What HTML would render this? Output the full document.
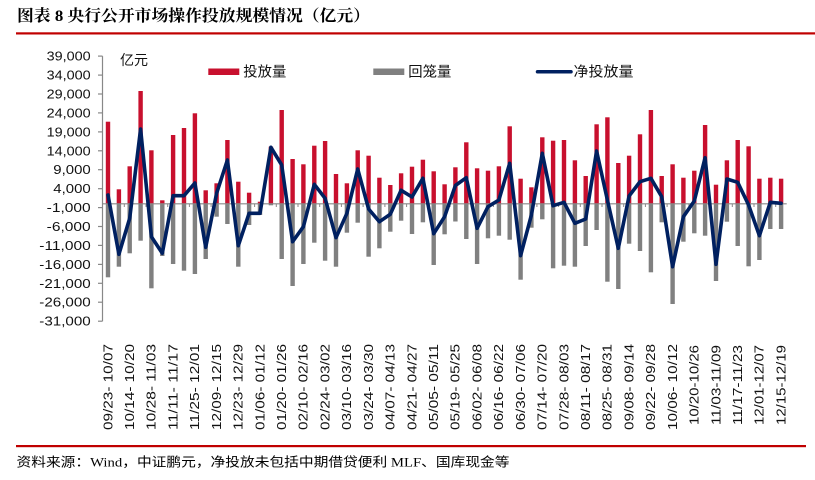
<!DOCTYPE html>
<html>
<head>
<meta charset="utf-8">
<style>
  html, body { margin: 0; padding: 0; background: #ffffff; }
  body { width: 815px; height: 480px; overflow: hidden; }
  svg { display: block; }
  .ylab { font-family: "Liberation Sans", "Noto Sans CJK SC", sans-serif; font-size: 13px; fill: #111; }
  .xlab { font-family: "Liberation Sans", "Noto Sans CJK SC", sans-serif; font-size: 13px; fill: #111; }
  .leg { font-family: "Liberation Sans", "Noto Sans CJK SC", sans-serif; font-size: 14px; fill: #111; }
</style>
</head>
<body>
<svg width="815" height="480" viewBox="0 0 815 480" xmlns="http://www.w3.org/2000/svg">
  <rect x="0" y="0" width="815" height="480" fill="#ffffff"/>

  <!-- Title -->
  <text x="17" y="21" font-family="'Liberation Serif', 'Noto Serif CJK SC', serif" font-weight="bold" font-size="16" fill="#000" textLength="353" lengthAdjust="spacingAndGlyphs">图表 8 央行公开市场操作投放规模情况（亿元）</text>
  <rect x="16" y="32.3" width="799" height="2.2" fill="#C00000"/>

  <!-- Unit label -->
  <text x="120" y="65" class="leg" textLength="28" lengthAdjust="spacingAndGlyphs">亿元</text>

  <!-- Legend -->
  <rect x="208.3" y="68.5" width="31" height="6.5" fill="#C8102E"/>
  <text x="243.3" y="76.5" class="leg" textLength="43" lengthAdjust="spacingAndGlyphs">投放量</text>
  <rect x="373.3" y="68.5" width="31" height="6.5" fill="#808080"/>
  <text x="408.3" y="76.5" class="leg" textLength="43" lengthAdjust="spacingAndGlyphs">回笼量</text>
  <line x1="537.5" y1="71.7" x2="571" y2="71.7" stroke="#002060" stroke-width="3.5" stroke-linecap="round"/>
  <text x="573.5" y="76.5" class="leg" textLength="60" lengthAdjust="spacingAndGlyphs">净投放量</text>

  <!-- Y axis -->
  <line x1="102.5" y1="56.1" x2="102.5" y2="321.2" stroke="#888" stroke-width="1.2"/>
  <g stroke="#888" stroke-width="1.2">
    <line x1="98" y1="56.1" x2="102.5" y2="56.1"/>
    <line x1="98" y1="75.1" x2="102.5" y2="75.1"/>
    <line x1="98" y1="94.0" x2="102.5" y2="94.0"/>
    <line x1="98" y1="112.9" x2="102.5" y2="112.9"/>
    <line x1="98" y1="131.9" x2="102.5" y2="131.9"/>
    <line x1="98" y1="150.8" x2="102.5" y2="150.8"/>
    <line x1="98" y1="169.7" x2="102.5" y2="169.7"/>
    <line x1="98" y1="188.7" x2="102.5" y2="188.7"/>
    <line x1="98" y1="207.6" x2="102.5" y2="207.6"/>
    <line x1="98" y1="226.5" x2="102.5" y2="226.5"/>
    <line x1="98" y1="245.4" x2="102.5" y2="245.4"/>
    <line x1="98" y1="264.4" x2="102.5" y2="264.4"/>
    <line x1="98" y1="283.3" x2="102.5" y2="283.3"/>
    <line x1="98" y1="302.2" x2="102.5" y2="302.2"/>
    <line x1="98" y1="321.2" x2="102.5" y2="321.2"/>
  </g>
  <g class="ylab" text-anchor="end">
    <text x="90.7" y="60.6" textLength="44" lengthAdjust="spacingAndGlyphs">39,000</text>
    <text x="90.7" y="79.6" textLength="44" lengthAdjust="spacingAndGlyphs">34,000</text>
    <text x="90.7" y="98.5" textLength="44" lengthAdjust="spacingAndGlyphs">29,000</text>
    <text x="90.7" y="117.4" textLength="44" lengthAdjust="spacingAndGlyphs">24,000</text>
    <text x="90.7" y="136.4" textLength="44" lengthAdjust="spacingAndGlyphs">19,000</text>
    <text x="90.7" y="155.3" textLength="44" lengthAdjust="spacingAndGlyphs">14,000</text>
    <text x="90.7" y="174.2" textLength="37.4" lengthAdjust="spacingAndGlyphs">9,000</text>
    <text x="90.7" y="193.2" textLength="37.4" lengthAdjust="spacingAndGlyphs">4,000</text>
    <text x="90.7" y="212.1" textLength="44" lengthAdjust="spacingAndGlyphs">-1,000</text>
    <text x="90.7" y="231.0" textLength="44" lengthAdjust="spacingAndGlyphs">-6,000</text>
    <text x="90.7" y="249.9" textLength="51.4" lengthAdjust="spacingAndGlyphs">-11,000</text>
    <text x="90.7" y="268.9" textLength="51.4" lengthAdjust="spacingAndGlyphs">-16,000</text>
    <text x="90.7" y="287.8" textLength="51.4" lengthAdjust="spacingAndGlyphs">-21,000</text>
    <text x="90.7" y="306.7" textLength="51.4" lengthAdjust="spacingAndGlyphs">-26,000</text>
    <text x="90.7" y="325.7" textLength="51.4" lengthAdjust="spacingAndGlyphs">-31,000</text>
  </g>

  <!-- Red bars (投放量) -->
  <g fill="#C8102E">
    <rect x="105.8" y="121.7" width="4.4" height="82.1"/>
    <rect x="116.7" y="189.3" width="4.4" height="14.5"/>
    <rect x="127.5" y="166.3" width="4.4" height="37.5"/>
    <rect x="138.4" y="91" width="4.4" height="112.8"/>
    <rect x="149.2" y="150.3" width="4.4" height="53.5"/>
    <rect x="160.1" y="200.3" width="4.4" height="3.5"/>
    <rect x="170.9" y="135" width="4.4" height="68.8"/>
    <rect x="181.8" y="128" width="4.4" height="75.8"/>
    <rect x="192.7" y="113.3" width="4.4" height="90.5"/>
    <rect x="203.5" y="190.3" width="4.4" height="13.5"/>
    <rect x="214.4" y="183.3" width="4.4" height="20.5"/>
    <rect x="225.2" y="140" width="4.4" height="63.8"/>
    <rect x="236.1" y="181.7" width="4.4" height="22.1"/>
    <rect x="246.9" y="192.7" width="4.4" height="11.1"/>
    <rect x="257.8" y="201.7" width="4.4" height="2.1"/>
    <rect x="268.7" y="146.7" width="4.4" height="57.1"/>
    <rect x="279.5" y="110" width="4.4" height="93.8"/>
    <rect x="290.4" y="159" width="4.4" height="44.8"/>
    <rect x="301.2" y="164.3" width="4.4" height="39.5"/>
    <rect x="312.1" y="145.7" width="4.4" height="58.1"/>
    <rect x="322.9" y="141" width="4.4" height="62.8"/>
    <rect x="333.8" y="174" width="4.4" height="29.8"/>
    <rect x="344.7" y="183.3" width="4.4" height="20.5"/>
    <rect x="355.5" y="150.3" width="4.4" height="53.5"/>
    <rect x="366.4" y="155.7" width="4.4" height="48.1"/>
    <rect x="377.2" y="177.7" width="4.4" height="26.1"/>
    <rect x="388.1" y="185" width="4.4" height="18.8"/>
    <rect x="398.9" y="173.3" width="4.4" height="30.5"/>
    <rect x="409.8" y="166.7" width="4.4" height="37.1"/>
    <rect x="420.7" y="159.7" width="4.4" height="44.1"/>
    <rect x="431.5" y="171.3" width="4.4" height="32.5"/>
    <rect x="442.4" y="184.3" width="4.4" height="19.5"/>
    <rect x="453.2" y="167.3" width="4.4" height="36.5"/>
    <rect x="464.1" y="142.3" width="4.4" height="61.5"/>
    <rect x="474.9" y="168.3" width="4.4" height="35.5"/>
    <rect x="485.8" y="170.7" width="4.4" height="33.1"/>
    <rect x="496.7" y="166.3" width="4.4" height="37.5"/>
    <rect x="507.5" y="126.3" width="4.4" height="77.5"/>
    <rect x="518.4" y="178.7" width="4.4" height="25.1"/>
    <rect x="529.2" y="187.3" width="4.4" height="16.5"/>
    <rect x="540.1" y="137.3" width="4.4" height="66.5"/>
    <rect x="550.9" y="140.7" width="4.4" height="63.1"/>
    <rect x="561.8" y="140" width="4.4" height="63.8"/>
    <rect x="572.7" y="160.3" width="4.4" height="43.5"/>
    <rect x="583.5" y="176" width="4.4" height="27.8"/>
    <rect x="594.4" y="124.3" width="4.4" height="79.5"/>
    <rect x="605.2" y="117.3" width="4.4" height="86.5"/>
    <rect x="616.1" y="163" width="4.4" height="40.8"/>
    <rect x="626.9" y="155.7" width="4.4" height="48.1"/>
    <rect x="637.8" y="134.3" width="4.4" height="69.5"/>
    <rect x="648.7" y="110" width="4.4" height="93.8"/>
    <rect x="659.5" y="176" width="4.4" height="27.8"/>
    <rect x="670.4" y="164.3" width="4.4" height="39.5"/>
    <rect x="681.2" y="177.7" width="4.4" height="26.1"/>
    <rect x="692.1" y="170.7" width="4.4" height="33.1"/>
    <rect x="702.9" y="125" width="4.4" height="78.8"/>
    <rect x="713.8" y="184.7" width="4.4" height="19.1"/>
    <rect x="724.7" y="160.3" width="4.4" height="43.5"/>
    <rect x="735.5" y="140" width="4.4" height="63.8"/>
    <rect x="746.4" y="146.3" width="4.4" height="57.5"/>
    <rect x="757.2" y="178.7" width="4.4" height="25.1"/>
    <rect x="768.1" y="177.7" width="4.4" height="26.1"/>
    <rect x="778.9" y="178.7" width="4.4" height="25.1"/>
  </g>

  <!-- Gray bars (回笼量) -->
  <g fill="#808080">
    <rect x="105.8" y="203.8" width="4.4" height="73.5"/>
    <rect x="116.7" y="203.8" width="4.4" height="62.9"/>
    <rect x="127.5" y="203.8" width="4.4" height="49.5"/>
    <rect x="138.4" y="203.8" width="4.4" height="36.9"/>
    <rect x="149.2" y="203.8" width="4.4" height="84.5"/>
    <rect x="160.1" y="203.8" width="4.4" height="52.2"/>
    <rect x="170.9" y="203.8" width="4.4" height="60.2"/>
    <rect x="181.8" y="203.8" width="4.4" height="66.9"/>
    <rect x="192.7" y="203.8" width="4.4" height="70.2"/>
    <rect x="203.5" y="203.8" width="4.4" height="55.2"/>
    <rect x="214.4" y="203.8" width="4.4" height="12.9"/>
    <rect x="225.2" y="203.8" width="4.4" height="20.2"/>
    <rect x="236.1" y="203.8" width="4.4" height="62.9"/>
    <rect x="246.9" y="203.8" width="4.4" height="21.2"/>
    <rect x="257.8" y="203.8" width="4.4" height="11.2"/>
    <rect x="268.7" y="203.8" width="4.4" height="1.5"/>
    <rect x="279.5" y="203.8" width="4.4" height="55.2"/>
    <rect x="290.4" y="203.8" width="4.4" height="82.2"/>
    <rect x="301.2" y="203.8" width="4.4" height="60.2"/>
    <rect x="312.1" y="203.8" width="4.4" height="38.9"/>
    <rect x="322.9" y="203.8" width="4.4" height="56.9"/>
    <rect x="333.8" y="203.8" width="4.4" height="62.9"/>
    <rect x="344.7" y="203.8" width="4.4" height="28.9"/>
    <rect x="355.5" y="203.8" width="4.4" height="18.9"/>
    <rect x="366.4" y="203.8" width="4.4" height="52.9"/>
    <rect x="377.2" y="203.8" width="4.4" height="44.5"/>
    <rect x="388.1" y="203.8" width="4.4" height="27.9"/>
    <rect x="398.9" y="203.8" width="4.4" height="16.9"/>
    <rect x="409.8" y="203.8" width="4.4" height="30.2"/>
    <rect x="420.7" y="203.8" width="4.4" height="18.5"/>
    <rect x="431.5" y="203.8" width="4.4" height="61.2"/>
    <rect x="442.4" y="203.8" width="4.4" height="30.5"/>
    <rect x="453.2" y="203.8" width="4.4" height="17.7"/>
    <rect x="464.1" y="203.8" width="4.4" height="35.2"/>
    <rect x="474.9" y="203.8" width="4.4" height="60.2"/>
    <rect x="485.8" y="203.8" width="4.4" height="34.5"/>
    <rect x="496.7" y="203.8" width="4.4" height="31.9"/>
    <rect x="507.5" y="203.8" width="4.4" height="35.9"/>
    <rect x="518.4" y="203.8" width="4.4" height="75.9"/>
    <rect x="529.2" y="203.8" width="4.4" height="23.9"/>
    <rect x="540.1" y="203.8" width="4.4" height="15.5"/>
    <rect x="550.9" y="203.8" width="4.4" height="64.5"/>
    <rect x="561.8" y="203.8" width="4.4" height="61.9"/>
    <rect x="572.7" y="203.8" width="4.4" height="62.9"/>
    <rect x="583.5" y="203.8" width="4.4" height="42.2"/>
    <rect x="594.4" y="203.8" width="4.4" height="26.2"/>
    <rect x="605.2" y="203.8" width="4.4" height="77.9"/>
    <rect x="616.1" y="203.8" width="4.4" height="85.2"/>
    <rect x="626.9" y="203.8" width="4.4" height="39.9"/>
    <rect x="637.8" y="203.8" width="4.4" height="47.2"/>
    <rect x="648.7" y="203.8" width="4.4" height="68.5"/>
    <rect x="659.5" y="203.8" width="4.4" height="18.5"/>
    <rect x="670.4" y="203.8" width="4.4" height="100.2"/>
    <rect x="681.2" y="203.8" width="4.4" height="37.9"/>
    <rect x="692.1" y="203.8" width="4.4" height="29.5"/>
    <rect x="702.9" y="203.8" width="4.4" height="31.9"/>
    <rect x="713.8" y="203.8" width="4.4" height="77.2"/>
    <rect x="724.7" y="203.8" width="4.4" height="17.9"/>
    <rect x="735.5" y="203.8" width="4.4" height="42.2"/>
    <rect x="746.4" y="203.8" width="4.4" height="62.5"/>
    <rect x="757.2" y="203.8" width="4.4" height="56.2"/>
    <rect x="768.1" y="203.8" width="4.4" height="25.2"/>
    <rect x="778.9" y="203.8" width="4.4" height="25.2"/>
  </g>

  <!-- X axis -->
  <line x1="102.5" y1="203.8" x2="786.7" y2="203.8" stroke="#888" stroke-width="1.2"/>
  <g stroke="#888" stroke-width="1">
    <line x1="124.3" y1="203.8" x2="124.3" y2="207"/>
    <line x1="146" y1="203.8" x2="146" y2="207"/>
    <line x1="167.7" y1="203.8" x2="167.7" y2="207"/>
    <line x1="189.4" y1="203.8" x2="189.4" y2="207"/>
    <line x1="211.1" y1="203.8" x2="211.1" y2="207"/>
    <line x1="232.9" y1="203.8" x2="232.9" y2="207"/>
    <line x1="254.6" y1="203.8" x2="254.6" y2="207"/>
    <line x1="276.3" y1="203.8" x2="276.3" y2="207"/>
    <line x1="298" y1="203.8" x2="298" y2="207"/>
    <line x1="319.7" y1="203.8" x2="319.7" y2="207"/>
    <line x1="341.4" y1="203.8" x2="341.4" y2="207"/>
    <line x1="363.1" y1="203.8" x2="363.1" y2="207"/>
    <line x1="384.9" y1="203.8" x2="384.9" y2="207"/>
    <line x1="406.6" y1="203.8" x2="406.6" y2="207"/>
    <line x1="428.3" y1="203.8" x2="428.3" y2="207"/>
    <line x1="450" y1="203.8" x2="450" y2="207"/>
    <line x1="471.7" y1="203.8" x2="471.7" y2="207"/>
    <line x1="493.4" y1="203.8" x2="493.4" y2="207"/>
    <line x1="515.1" y1="203.8" x2="515.1" y2="207"/>
    <line x1="536.9" y1="203.8" x2="536.9" y2="207"/>
    <line x1="558.6" y1="203.8" x2="558.6" y2="207"/>
    <line x1="580.3" y1="203.8" x2="580.3" y2="207"/>
    <line x1="602" y1="203.8" x2="602" y2="207"/>
    <line x1="623.7" y1="203.8" x2="623.7" y2="207"/>
    <line x1="645.4" y1="203.8" x2="645.4" y2="207"/>
    <line x1="667.1" y1="203.8" x2="667.1" y2="207"/>
    <line x1="688.9" y1="203.8" x2="688.9" y2="207"/>
    <line x1="710.6" y1="203.8" x2="710.6" y2="207"/>
    <line x1="732.3" y1="203.8" x2="732.3" y2="207"/>
    <line x1="754" y1="203.8" x2="754" y2="207"/>
    <line x1="775.7" y1="203.8" x2="775.7" y2="207"/>
  </g>

  <!-- Net line (净投放量) -->
  <polyline fill="none" stroke="#002060" stroke-width="3.6" stroke-linejoin="round" stroke-linecap="round"
    points="108.0,195 118.9,254.3 129.7,218.3 140.6,129 151.4,236.7 162.3,253.3 173.1,195.7 184.0,195.7 194.9,183 205.7,247.3 216.6,193.3 227.4,160 238.3,245.7 249.1,213.3 260.0,213.3 270.9,147.3 281.7,165 292.6,241.7 303.4,226.7 314.3,184.3 325.1,198.3 336.0,237.7 346.9,213.3 357.7,169 368.6,209 379.4,221.7 390.3,214.3 401.1,190.3 412.0,197 422.9,178.3 433.7,233.7 444.6,216.7 455.4,185.5 466.3,177.7 477.1,228.3 488.0,206.7 498.9,200 509.7,163.3 520.6,255.7 531.4,215 542.3,153.3 553.1,205.7 564.0,202.3 574.9,223.3 585.7,219 596.6,151 607.4,200 618.3,248.3 629.1,196 640.0,181.7 650.9,178.3 661.7,196.7 672.6,266.7 683.4,216.7 694.3,201 705.1,157.7 716.0,264.3 726.9,179 737.7,182.3 748.6,205 759.4,235.7 770.3,202.3 781.1,203.3"/>

  <!-- X labels -->
  <g class="xlab" text-anchor="end">
    <text transform="translate(112.3,344) rotate(-90)" textLength="86" lengthAdjust="spacingAndGlyphs">09/23- 10/07</text>
    <text transform="translate(134.0,344) rotate(-90)" textLength="86" lengthAdjust="spacingAndGlyphs">10/14- 10/20</text>
    <text transform="translate(155.7,344) rotate(-90)" textLength="86" lengthAdjust="spacingAndGlyphs">10/28- 11/03</text>
    <text transform="translate(177.4,344) rotate(-90)" textLength="86" lengthAdjust="spacingAndGlyphs">11/11- 11/17</text>
    <text transform="translate(199.2,344) rotate(-90)" textLength="86" lengthAdjust="spacingAndGlyphs">11/25- 12/01</text>
    <text transform="translate(220.9,344) rotate(-90)" textLength="86" lengthAdjust="spacingAndGlyphs">12/09- 12/15</text>
    <text transform="translate(242.6,344) rotate(-90)" textLength="86" lengthAdjust="spacingAndGlyphs">12/23- 12/29</text>
    <text transform="translate(264.3,344) rotate(-90)" textLength="86" lengthAdjust="spacingAndGlyphs">01/06- 01/12</text>
    <text transform="translate(286.0,344) rotate(-90)" textLength="86" lengthAdjust="spacingAndGlyphs">01/20- 01/26</text>
    <text transform="translate(307.7,344) rotate(-90)" textLength="86" lengthAdjust="spacingAndGlyphs">02/10- 02/16</text>
    <text transform="translate(329.4,344) rotate(-90)" textLength="86" lengthAdjust="spacingAndGlyphs">02/24- 03/02</text>
    <text transform="translate(351.2,344) rotate(-90)" textLength="86" lengthAdjust="spacingAndGlyphs">03/10- 03/16</text>
    <text transform="translate(372.9,344) rotate(-90)" textLength="86" lengthAdjust="spacingAndGlyphs">03/24- 03/30</text>
    <text transform="translate(394.6,344) rotate(-90)" textLength="86" lengthAdjust="spacingAndGlyphs">04/07- 04/13</text>
    <text transform="translate(416.3,344) rotate(-90)" textLength="86" lengthAdjust="spacingAndGlyphs">04/21- 04/27</text>
    <text transform="translate(438.0,344) rotate(-90)" textLength="86" lengthAdjust="spacingAndGlyphs">05/05- 05/11</text>
    <text transform="translate(459.7,344) rotate(-90)" textLength="86" lengthAdjust="spacingAndGlyphs">05/19- 05/25</text>
    <text transform="translate(481.4,344) rotate(-90)" textLength="86" lengthAdjust="spacingAndGlyphs">06/02- 06/08</text>
    <text transform="translate(503.2,344) rotate(-90)" textLength="86" lengthAdjust="spacingAndGlyphs">06/16- 06/22</text>
    <text transform="translate(524.9,344) rotate(-90)" textLength="86" lengthAdjust="spacingAndGlyphs">06/30- 07/06</text>
    <text transform="translate(546.6,344) rotate(-90)" textLength="86" lengthAdjust="spacingAndGlyphs">07/14- 07/20</text>
    <text transform="translate(568.3,344) rotate(-90)" textLength="86" lengthAdjust="spacingAndGlyphs">07/28- 08/03</text>
    <text transform="translate(590.0,344) rotate(-90)" textLength="86" lengthAdjust="spacingAndGlyphs">08/11- 08/17</text>
    <text transform="translate(611.7,344) rotate(-90)" textLength="86" lengthAdjust="spacingAndGlyphs">08/25- 08/31</text>
    <text transform="translate(633.4,344) rotate(-90)" textLength="86" lengthAdjust="spacingAndGlyphs">09/08- 09/14</text>
    <text transform="translate(655.2,344) rotate(-90)" textLength="86" lengthAdjust="spacingAndGlyphs">09/22- 09/28</text>
    <text transform="translate(676.9,344) rotate(-90)" textLength="86" lengthAdjust="spacingAndGlyphs">10/06- 10/12</text>
    <text transform="translate(698.6,345) rotate(-90)" textLength="80" lengthAdjust="spacingAndGlyphs">10/20-10/26</text>
    <text transform="translate(720.3,345) rotate(-90)" textLength="80" lengthAdjust="spacingAndGlyphs">11/03-11/09</text>
    <text transform="translate(742.0,345) rotate(-90)" textLength="80" lengthAdjust="spacingAndGlyphs">11/17-11/23</text>
    <text transform="translate(763.7,345) rotate(-90)" textLength="80" lengthAdjust="spacingAndGlyphs">12/01-12/07</text>
    <text transform="translate(785.4,345) rotate(-90)" textLength="80" lengthAdjust="spacingAndGlyphs">12/15-12/19</text>
  </g>

  <!-- Bottom rule and source -->
  <rect x="16" y="445" width="790" height="2.2" fill="#C00000"/>
  <text x="16.5" y="466.5" font-family="'Liberation Serif', 'Noto Sans CJK SC', serif" font-size="13" fill="#000" textLength="493" lengthAdjust="spacingAndGlyphs">资料来源：Wind，中证鹏元，净投放未包括中期借贷便利 MLF、国库现金等</text>
</svg>
</body>
</html>
